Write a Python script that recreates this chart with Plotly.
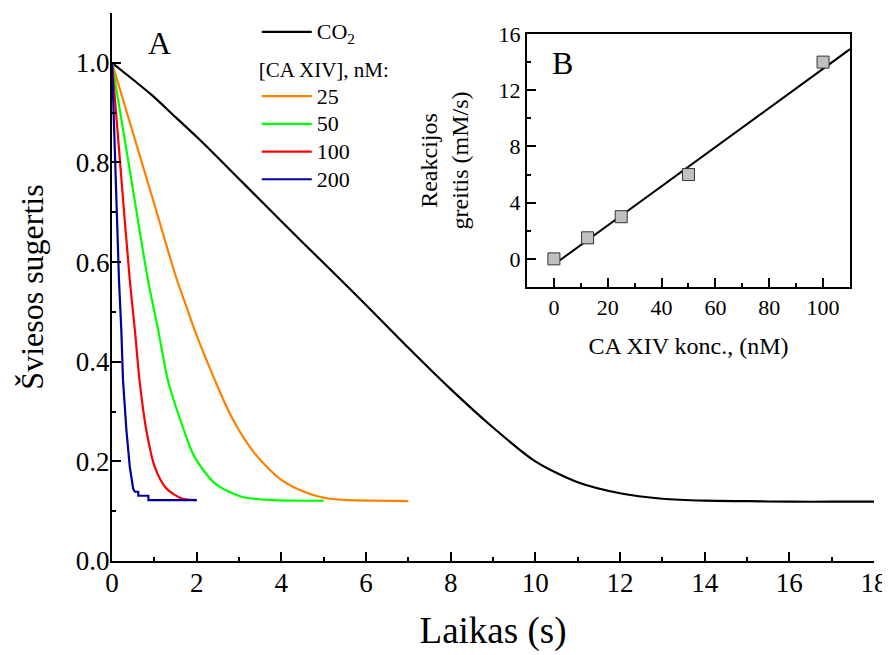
import plotly.graph_objects as go

# ---- Panel A data (time, s ; absorbance) ----
t_co2 = [0, 0.5, 0.93, 1.5, 2.08, 3.06, 4.0, 5.06, 6.0, 7.0, 8.0, 9.0, 10.0, 11.0, 12.0, 13.0, 14.0, 15.0, 16.0, 17.0, 18.0]
a_co2 = [1.0, 0.966, 0.936, 0.891, 0.845, 0.762, 0.682, 0.593, 0.514, 0.428, 0.345, 0.268, 0.200, 0.158, 0.136, 0.125, 0.121, 0.120, 0.119, 0.119, 0.119]

t_25 = [0, 0.5, 1.0, 1.52, 1.76, 1.95, 2.2, 2.43, 2.65, 2.90, 3.37, 4.0, 4.63, 5.06, 5.6, 6.2, 7.0]
a_25 = [1.0, 0.858, 0.716, 0.568, 0.510, 0.464, 0.410, 0.363, 0.320, 0.277, 0.216, 0.163, 0.136, 0.126, 0.122, 0.121, 0.120]

t_50 = [0, 0.4, 0.85, 1.09, 1.32, 1.64, 1.95, 2.43, 3.06, 3.84, 4.3, 5.0]
a_50 = [1.0, 0.795, 0.564, 0.464, 0.363, 0.277, 0.209, 0.156, 0.129, 0.122, 0.121, 0.121]

t_100 = [0, 0.2, 0.42, 0.54, 0.65, 0.81, 1.01, 1.28, 1.64, 2.0]
a_100 = [1.0, 0.79, 0.564, 0.464, 0.363, 0.263, 0.189, 0.146, 0.126, 0.122]

t_200 = [0, 0.08, 0.165, 0.22, 0.26, 0.34, 0.42, 0.50, 0.54, 0.62, 0.62, 0.86, 0.86, 2.0]
a_200 = [1.0, 0.78, 0.564, 0.464, 0.363, 0.263, 0.189, 0.145, 0.139, 0.139, 0.131, 0.131, 0.122, 0.122]

series_names = ["25", "50", "100", "200"]
series_colors = ["#FF8000", "#00FF00", "#FF0000", "#0000A0"]
series_shapes = ["spline", "spline", "spline", "linear"]

# ---- Panel B data ----
conc_nM = [0, 12.5, 25, 50, 100]
rate_mMs = [0.0, 1.5, 3.0, 6.0, 14.0]
fit_x = [0.4, 110]
fit_y = [-0.35, 14.92]

FONT = "Liberation Serif, Times New Roman, serif"


def big(txt):
    return "<span style='font-size:22px'>" + txt + "</span>"


fig = go.Figure()

fig.add_trace(go.Scatter(x=t_co2, y=a_co2, mode="lines", name=big("CO<sub>2</sub>"),
                         line=dict(color="black", width=2.2, shape="spline", smoothing=0.8),
                         legend="legend"))
for t, a, nm, c, sh in zip([t_25, t_50, t_100, t_200], [a_25, a_50, a_100, a_200],
                           series_names, series_colors, series_shapes):
    ln = dict(color=c, width=2.2, shape=sh)
    if sh == "spline":
        ln["smoothing"] = 0.8
    fig.add_trace(go.Scatter(x=t, y=a, mode="lines", name=big(nm), line=ln, legend="legend2"))

fig.add_trace(go.Scatter(x=fit_x, y=fit_y, mode="lines", xaxis="x2", yaxis="y2",
                         line=dict(color="black", width=2), showlegend=False))
fig.add_trace(go.Scatter(x=conc_nM, y=rate_mMs, mode="markers", xaxis="x2", yaxis="y2",
                         marker=dict(symbol="square", size=12, color="#C0C0C0",
                                     line=dict(color="#333333", width=1)),
                         showlegend=False))

axis_common = dict(showline=True, linecolor="black", linewidth=2, showgrid=False, zeroline=False,
                   ticks="inside", tickcolor="black", tickwidth=2, ticklen=9, automargin=False)

fig.update_layout(
    width=890, height=655,
    margin=dict(l=104, r=24, t=5, b=102, autoexpand=False),
    paper_bgcolor="white", plot_bgcolor="white",
    font=dict(family=FONT, color="black"),
    xaxis=dict(**axis_common, range=[0, 18], dtick=2, tick0=0,
               minor=dict(dtick=1, ticks="inside", ticklen=4, tickwidth=2, tickcolor="black"),
               tickfont=dict(size=27, family=FONT), ticklabelstandoff=-3,
               title=dict(text="Laikas (s)", font=dict(size=37, family=FONT), standoff=20)),
    yaxis=dict(**axis_common, range=[0, 1.1], dtick=0.2, tick0=0, tickformat=".1f",
               minor=dict(dtick=0.1, ticks="inside", ticklen=4, tickwidth=2, tickcolor="black"),
               tickfont=dict(size=27, family=FONT), ticklabelstandoff=-5,
               title=dict(text="Šviesos sugertis", font=dict(size=32, family=FONT), standoff=23)),
    xaxis2=dict(**axis_common, domain=[0.5446, 0.9685], anchor="y2", mirror=True,
                range=[-10, 110], dtick=20, tick0=0,
                minor=dict(dtick=10, ticks="inside", ticklen=4, tickwidth=2, tickcolor="black"),
                tickfont=dict(size=22, family=FONT),
                title=dict(text="CA XIV konc., (nM)", font=dict(size=24, family=FONT), standoff=18)),
    yaxis2=dict(**axis_common, domain=[0.5, 0.9617], anchor="x2", mirror=True,
                range=[-2, 16], dtick=4, tick0=0,
                minor=dict(dtick=2, ticks="inside", ticklen=4, tickwidth=2, tickcolor="black"),
                tickfont=dict(size=22, family=FONT),
                title=dict(text="Reakcijos<br>greitis (mM/s)", font=dict(size=24, family=FONT), standoff=23)),
    legend=dict(x=0.19, y=1.0, xanchor="left", yanchor="top", bgcolor="rgba(0,0,0,0)",
                font=dict(size=19, family=FONT), itemwidth=50, tracegroupgap=0),
    legend2=dict(x=0.19, y=0.9325, xanchor="left", yanchor="top", bgcolor="rgba(0,0,0,0)",
                 font=dict(size=19, family=FONT), itemwidth=50, tracegroupgap=0,
                 title=dict(text="[CA XIV], nM:", font=dict(size=21, family=FONT), side="top")),
    annotations=[
        dict(text="A", x=0.045, y=0.945, xref="paper", yref="paper", xanchor="left", yanchor="middle",
             showarrow=False, font=dict(size=32, family=FONT)),
        dict(text="B", x=0.5746, y=0.909, xref="paper", yref="paper", xanchor="left", yanchor="middle",
             showarrow=False, font=dict(size=32, family=FONT)),
    ],
)

fig.write_html("out.html")
